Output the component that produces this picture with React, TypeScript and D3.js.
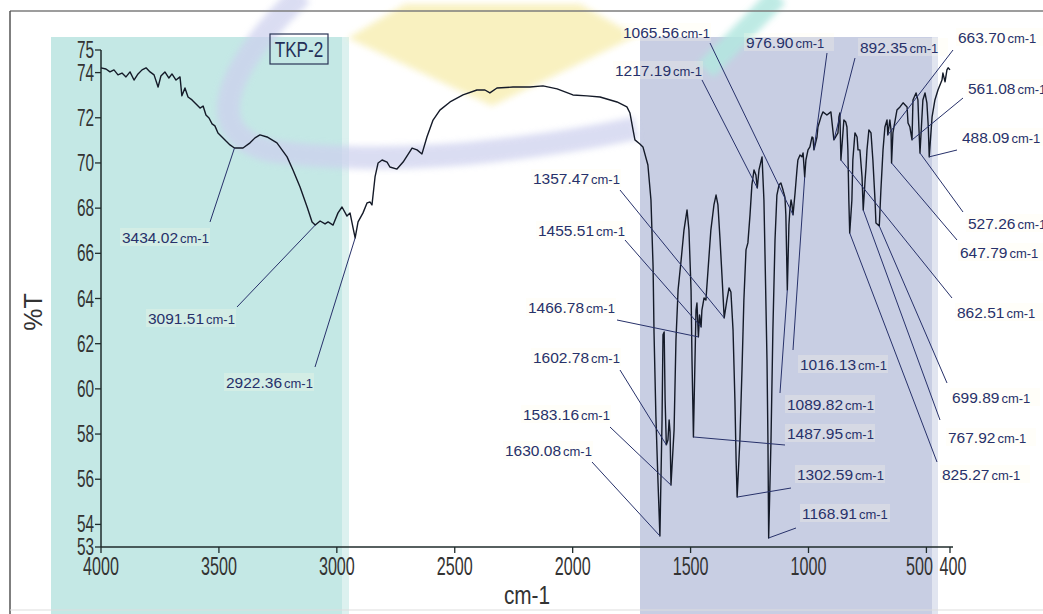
import React from "react";
import * as d3 from "d3";

// FTIR spectrum of sample TKP-2: wavenumber (cm-1) and transmittance (%T)
const specWavenumber = [
  4000, 3979, 3962, 3945, 3928, 3911, 3894, 3877, 3860, 3843, 3826, 3809, 3792, 3775, 3758, 3746,
  3729, 3712, 3699, 3682, 3665, 3657, 3644, 3631, 3614, 3597, 3580, 3567, 3555, 3542, 3529, 3517,
  3504, 3487, 3470, 3453, 3434.02, 3398, 3368, 3347, 3326, 3296, 3254, 3211, 3186, 3156, 3126, 3105,
  3091.51, 3071, 3050, 3037, 3016, 2995, 2978, 2957, 2944, 2931, 2922.36, 2910, 2889, 2872, 2859, 2851,
  2838, 2825, 2808, 2787, 2775, 2745, 2719, 2681, 2660, 2639, 2618, 2592, 2563, 2520, 2465, 2406,
  2372, 2351, 2321, 2253, 2181, 2126, 2066, 1999, 1939, 1884, 1812, 1770, 1757, 1744, 1736, 1715,
  1702, 1681, 1668, 1659, 1655, 1647, 1638, 1630.08, 1621, 1617, 1612, 1608, 1602.78, 1596, 1591, 1587,
  1583.16, 1570, 1562, 1553, 1540, 1528, 1515, 1507, 1498, 1494, 1490, 1487.95, 1477, 1473, 1466.78, 1462,
  1455.51, 1452, 1443, 1435, 1426, 1414, 1401, 1392, 1384, 1375, 1367, 1357.47, 1346, 1337, 1329, 1320,
  1312, 1307, 1302.59, 1291, 1282, 1274, 1265, 1257, 1248, 1240, 1231, 1223, 1217.19, 1210, 1197, 1189,
  1184, 1176, 1172, 1168.91, 1159, 1151, 1142, 1134, 1125, 1117, 1108, 1100, 1096, 1089.82, 1083, 1079,
  1074, 1070, 1065.56, 1057, 1049, 1045, 1036, 1028, 1023, 1016.13, 1011, 1002, 994, 985, 981, 976.9,
  964, 960, 947, 939, 922, 905, 892.35, 875, 871, 867, 862.51, 850, 842, 837, 833, 829,
  825.27, 816, 812, 803, 794, 790, 782, 773, 767.92, 760, 756, 752, 744, 735, 727, 718,
  714, 699.89, 693, 684, 676, 667, 663.7, 655, 650, 647.79, 642, 625, 612, 599, 582, 578,
  570, 561.08, 557, 544, 536, 532, 527.26, 515, 506, 498, 492, 488.09, 476, 464, 451, 434,
  430, 421, 413, 408, 400,
];

const specTransmittance = [
  74.21, 74.16, 74.03, 74.12, 73.9, 73.98, 73.81, 74.03, 73.67, 73.94, 74.12, 74.21, 74.03, 73.9, 73.36, 73.85,
  74.03, 73.76, 73.94, 73.67, 73.81, 72.97, 73.32, 72.92, 72.79, 72.61, 72.43, 72.52, 72.12, 71.99, 71.73, 71.64,
  71.33, 71.15, 70.97, 70.8, 70.66, 70.66, 70.89, 71.11, 71.24, 71.15, 70.89, 70.27, 69.69, 68.94, 68.05, 67.39,
  67.25, 67.43, 67.3, 67.39, 67.25, 67.79, 68.05, 67.65, 67.79, 67.12, 66.68, 67.39, 67.79, 68.23, 68.27, 68.14,
  69.38, 70.0, 70.13, 70.04, 69.82, 69.73, 70.04, 70.66, 70.58, 70.4, 71.15, 71.9, 72.34, 72.7, 73.01, 73.23,
  73.23, 73.1, 73.32, 73.36, 73.36, 73.41, 73.28, 73.01, 72.97, 72.92, 72.7, 72.48, 72.21, 71.46, 71.02, 70.84,
  70.71, 69.91, 68.36, 65.4, 62.47, 58.76, 55.83, 53.49, 58.62, 62.39, 62.52, 59.51, 57.52, 57.74, 58.62, 58.09,
  55.74, 58.18, 62.16, 64.38, 65.71, 67.03, 67.92, 67.03, 64.38, 61.28, 59.07, 57.87, 63.49, 63.8, 62.3, 63.27,
  62.74, 63.49, 64.02, 63.93, 65.26, 67.03, 68.14, 68.58, 68.14, 66.59, 65.04, 63.14, 63.93, 64.47, 64.29, 62.61,
  59.51, 56.85, 55.21, 57.74, 60.84, 63.93, 66.15, 66.46, 67.7, 69.03, 69.69, 69.47, 68.89, 69.69, 70.27, 68.36,
  65.71, 61.28, 57.74, 53.4, 57.74, 62.61, 66.59, 68.58, 69.03, 69.11, 68.8, 68.49, 67.7, 64.38, 67.25, 67.92,
  68.36, 68.14, 67.7, 68.67, 69.69, 70.13, 70.35, 70.27, 70.44, 69.38, 70.13, 70.58, 70.71, 71.15, 71.11, 70.58,
  71.15, 71.59, 72.04, 72.26, 72.12, 72.26, 71.02, 71.33, 72.04, 72.21, 70.13, 71.9, 71.81, 71.59, 70.58, 68.36,
  66.9, 68.36, 70.13, 71.33, 71.15, 70.58, 70.58, 69.38, 67.92, 69.25, 69.82, 70.58, 71.46, 71.33, 70.13, 68.36,
  67.34, 67.21, 68.8, 70.58, 71.59, 71.9, 71.24, 71.9, 71.46, 70.0, 71.33, 72.34, 72.48, 72.66, 72.48, 71.77,
  71.59, 71.02, 72.79, 73.1, 72.79, 71.59, 70.44, 72.79, 73.1, 72.66, 71.59, 70.27, 72.04, 72.79, 73.23, 73.67,
  73.98, 73.59, 74.12, 74.21, 74.12,
];

// Labelled absorption bands (cm-1)
const peakWavenumbers = [
  3434.02, 3091.51, 2922.36, 1630.08, 1602.78, 1583.16, 1487.95, 1466.78, 1455.51, 1357.47,
  1302.59, 1217.19, 1168.91, 1089.82, 1065.56, 1016.13, 976.9, 892.35, 862.51, 825.27,
  767.92, 699.89, 663.7, 647.79, 561.08, 527.26, 488.09,
];

const xTickValues = [4000, 3500, 3000, 2500, 2000, 1500, 1000, 500, 400];
const yTickValues = [53, 54, 56, 58, 60, 62, 64, 66, 68, 70, 72, 74, 75];

const sampleName = "TKP-2";
const xTitle = "cm-1";
const yTitle = "%T";

// Placement of each band label: [text left, text centre y, leader start x, leader start y]
const labelPlacement: Record<string, [number, number, number, number]> = {
  "3434.02": [122, 237, 210, 222],
  "3091.51": [148, 318, 237, 307],
  "2922.36": [226, 382, 315, 367],
  "1630.08": [505, 450, 592, 462],
  "1602.78": [533, 357, 620, 370],
  "1583.16": [523, 414, 610, 427],
  "1487.95": [787, 433, 785, 445],
  "1466.78": [528, 307, 617, 320],
  "1455.51": [538, 230, 625, 240],
  "1357.47": [533, 178, 620, 190],
  "1302.59": [797, 474, 791, 488],
  "1217.19": [615, 70, 702, 80],
  "1168.91": [802, 513, 796, 528],
  "1089.82": [787, 404, 780, 393],
  "1065.56": [623, 32, 710, 43],
  "1016.13": [800, 364, 793, 350],
  "976.90": [746, 42, 827, 53],
  "892.35": [860, 47, 855, 58],
  "862.51": [957, 312, 952, 298],
  "825.27": [942, 474, 937, 462],
  "767.92": [948, 437, 940, 420],
  "699.89": [952, 397, 947, 383],
  "663.70": [958, 37, 953, 50],
  "647.79": [960, 252, 957, 240],
  "561.08": [968, 88, 963, 98],
  "527.26": [968, 223, 963, 212],
  "488.09": [962, 137, 957, 150],
};

const W = 1043;
const H = 614;
const FONT = "'Liberation Sans', Arial, Helvetica, sans-serif";
const AXIS = "#1f2b2b";
const INK = "#27316a";

export default function App() {
  const x = d3.scaleLinear().domain([4000, 400]).range([101, 950]);
  const y = d3.scaleLinear().domain([53, 75]).range([547, 50]);

  const points: [number, number][] = specWavenumber.map((w, i) => [w, specTransmittance[i]]);
  const line = d3
    .line<[number, number]>()
    .x((d) => x(d[0]))
    .y((d) => y(d[1]));

  const [y0] = y.range();
  const [x0, x1] = x.range();

  return (
    <svg
      width={W}
      height={H}
      viewBox={`0 0 ${W} ${H}`}
      style={{ position: "absolute", left: 0, top: 0, background: "#ffffff" }}
    >
      <defs>
        <filter id="soft" x="-20%" y="-20%" width="140%" height="140%">
          <feGaussianBlur stdDeviation="3" />
        </filter>
      </defs>
      <rect x={0} y={0} width={W} height={H} fill="#ffffff" />

      {/* shaded regions */}
      <rect x={51} y={37} width={291} height={H - 37} fill="#c4e8e5" />
      <rect x={342} y={37} width={7} height={H - 37} fill="#dcf1ef" />
      <rect x={640} y={37} width={292} height={H - 37} fill="#c8cee3" />
      <rect x={932} y={37} width={6} height={H - 37} fill="#e1e5f0" />

      {/* backdrop emblem */}
      <polygon
        points="405,4 580,4 636,36 492,106 348,38"
        fill="#f8efb6"
        opacity={0.85}
        filter="url(#soft)"
      />
      <path
        d="M 302 -6 C 244 48, 186 132, 272 151 C 330 160, 420 160, 500 150 C 560 143, 600 136, 636 128"
        fill="none"
        stroke="#cdd0ee"
        strokeWidth={23}
        opacity={0.72}
        filter="url(#soft)"
      />
      <line
        x1={778}
        y1={-4}
        x2={706}
        y2={70}
        stroke="#b3e7e0"
        strokeWidth={21}
        opacity={0.85}
        filter="url(#soft)"
      />

      {/* frame */}
      <line x1={10} y1={11} x2={W} y2={11} stroke="#7d7d7d" strokeWidth={1.5} />
      <line x1={10} y1={11} x2={10} y2={H} stroke="#555" strokeWidth={1.5} />
      <line x1={10} y1={610} x2={W} y2={610} stroke="#dddddd" strokeWidth={1} />

      {/* axes */}
      <line x1={x0} y1={y0} x2={x1 + 3} y2={y0} stroke={AXIS} strokeWidth={1.5} />
      <line x1={x0} y1={y0} x2={x0} y2={y(75)} stroke={AXIS} strokeWidth={1.5} />
      {xTickValues.map((t) => {
        const dx = t === 500 ? -7 : t === 400 ? 3 : 0;
        return (
          <g key={`xt${t}`}>
            <line x1={x(t)} y1={y0} x2={x(t)} y2={y0 + 6} stroke={AXIS} strokeWidth={1.3} />
            <text
              transform={`translate(${x(t) + dx},${y0 + 28}) scale(0.62,1)`}
              textAnchor="middle"
              fontFamily={FONT}
              fontSize={26}
              fill="#333"
            >
              {t}
            </text>
          </g>
        );
      })}
      {yTickValues.map((t) => (
        <g key={`yt${t}`}>
          <line x1={x0 - 6} y1={y(t)} x2={x0} y2={y(t)} stroke={AXIS} strokeWidth={1.3} />
          <text
            transform={`translate(${x0 - 7},${y(t) + 8}) scale(0.64,1)`}
            textAnchor="end"
            fontFamily={FONT}
            fontSize={24}
            fill="#333"
          >
            {t}
          </text>
        </g>
      ))}
      <text
        transform={`translate(527,604) scale(0.8,1)`}
        textAnchor="middle"
        fontFamily={FONT}
        fontSize={26}
        fill="#333"
      >
        {xTitle}
      </text>
      <text
        transform={`translate(42,312) rotate(-90)`}
        textAnchor="middle"
        fontFamily={FONT}
        fontSize={25}
        fill="#333"
      >
        {yTitle}
      </text>

      {/* spectrum */}
      <path d={line(points) ?? ""} fill="none" stroke="#141a28" strokeWidth={1.4} strokeLinejoin="round" />

      {/* band labels */}
      {peakWavenumbers.map((w) => {
        const key = w.toFixed(2);
        const [tx, ty, lx, ly] = labelPlacement[key];
        const t = specTransmittance[specWavenumber.indexOf(w)];
        return (
          <g key={key}>
            <rect x={tx - 2} y={ty - 9} width={90} height={18} fill="#fffbe6" opacity={0.25} />
            <line x1={lx} y1={ly} x2={x(w)} y2={y(t)} stroke={INK} strokeWidth={1} />
            <text x={tx} y={ty} dy="0.36em" fontFamily={FONT} fill={INK}>
              <tspan fontSize={15.5}>{key}</tspan>
              <tspan fontSize={13} dx={2}>
                cm-1
              </tspan>
            </text>
          </g>
        );
      })}

      {/* sample tag */}
      <rect x={270} y={34} width={58} height={30} fill="none" stroke="#2a3556" strokeWidth={1.2} />
      <text
        transform={`translate(299,57) scale(0.78,1)`}
        textAnchor="middle"
        fontFamily={FONT}
        fontSize={22}
        fill="#243058"
      >
        {sampleName}
      </text>
    </svg>
  );
}
